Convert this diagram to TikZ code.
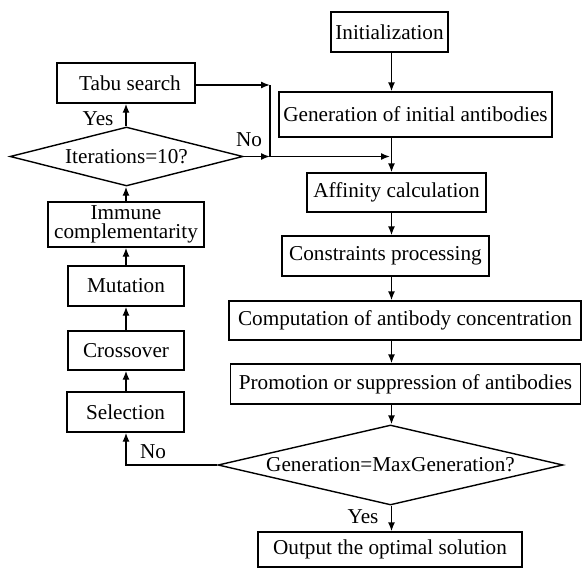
\documentclass[tikz,border=0pt]{standalone}
\usepackage{fontspec}
\setmainfont{Liberation Serif}
\usetikzlibrary{arrows.meta,shapes.geometric}
\begin{document}
\begin{tikzpicture}[x=1pt,y=-1pt,line width=1.4pt,
  txt/.style={font=\fontsize{21.2}{21.5}\selectfont},
  box/.style={txt,draw,inner sep=0pt,align=center},
  dia/.style={txt,draw,shape=diamond,inner sep=0pt},
  arr/.style={-{Latex[length=9pt,width=7pt]}},
  lbl/.style={txt,inner sep=0pt}]
\useasboundingbox (0,0) rectangle (582,568);
% columns
\coordinate (m) at (391.5,0);
\coordinate (l) at (126,0);
% main column
\node[box,minimum width=117pt,minimum height=40pt] (init) at (389.5,32) {Initialization};
\node[box,minimum width=273pt,minimum height=45pt] (gen) at (415.5,114.5) {Generation of initial antibodies};
\node[box,minimum width=179pt,minimum height=39pt] (aff) at (396.5,192.5) {Affinity calculation};
\node[box,minimum width=207pt,minimum height=40pt] (con) at (385.5,256) {Constraints processing};
\node[box,minimum width=352pt,minimum height=39pt] (comp) at (405,320.5) {Computation of antibody concentration};
\node[box,minimum width=350pt,minimum height=40pt] (prom) at (405.5,384) {Promotion or suppression of antibodies};
\node[dia,minimum width=345pt,minimum height=80pt,aspect=4.3] (gdia) at (390.5,465) {Generation=MaxGeneration?};
\node[box,minimum width=264pt,minimum height=35pt] (out) at (390,549.5) {Output the optimal solution};
% left column
\node[box,minimum width=138pt,minimum height=40pt] (tabu) at (126,83) {\hspace*{8pt}Tabu search};
\node[dia,minimum width=233pt,minimum height=59pt,aspect=3.95] (idia) at (126.5,156.5) {Iterations=10?};
\node[box,minimum width=156pt,minimum height=45pt] (imm) at (126,224.5) {Immune\\[-2pt]complementarity};
\node[box,minimum width=116pt,minimum height=40pt] (mut) at (126,286) {Mutation};
\node[box,minimum width=116pt,minimum height=39pt] (cro) at (126,350.5) {Crossover};
\node[box,minimum width=117pt,minimum height=40pt] (sel) at (125.5,412) {Selection};
% junctions
\coordinate (j1) at (270,85);
\coordinate (j2) at (270,156.5);
\coordinate (j3) at (390,156.5);
% main arrows
\draw[arr] (init.south -| m) -- (gen.north -| m);
\draw[arr] (gen.south -| m) -- (aff.north -| m);
\draw[arr] (aff.south -| m) -- (con.north -| m);
\draw[arr] (con.south -| m) -- (comp.north -| m);
\draw[arr] (comp.south -| m) -- (prom.north -| m);
\draw[arr] (prom.south -| m) -- (gdia.north -| m);
\draw[arr] (gdia.south -| m) -- (out.north -| m);
% left arrows
\draw[arr] (gdia.west) -| (sel.south -| l);
\draw[arr] (sel.north -| l) -- (cro.south -| l);
\draw[arr] (cro.north -| l) -- (mut.south -| l);
\draw[arr] (mut.north -| l) -- (imm.south -| l);
\draw[arr] (imm.north -| l) -- (idia.south -| l);
\draw[arr] (idia.north -| l) -- (tabu.south -| l);
% loop back
\draw[arr] (tabu.east |- j1) -- (j1);
\draw (j1) -- (j2);
\draw[arr] (idia.east) -- (j2);
\draw[arr] (j2) -- (j3);
% labels
\node[lbl] (yes1) at (98,119) {Yes};
\node[lbl] (no1) at (249,140) {No};
\node[lbl] (no2) at (153,452) {No};
\node[lbl] (yes2) at (363,517) {Yes};
\end{tikzpicture}
\end{document}
